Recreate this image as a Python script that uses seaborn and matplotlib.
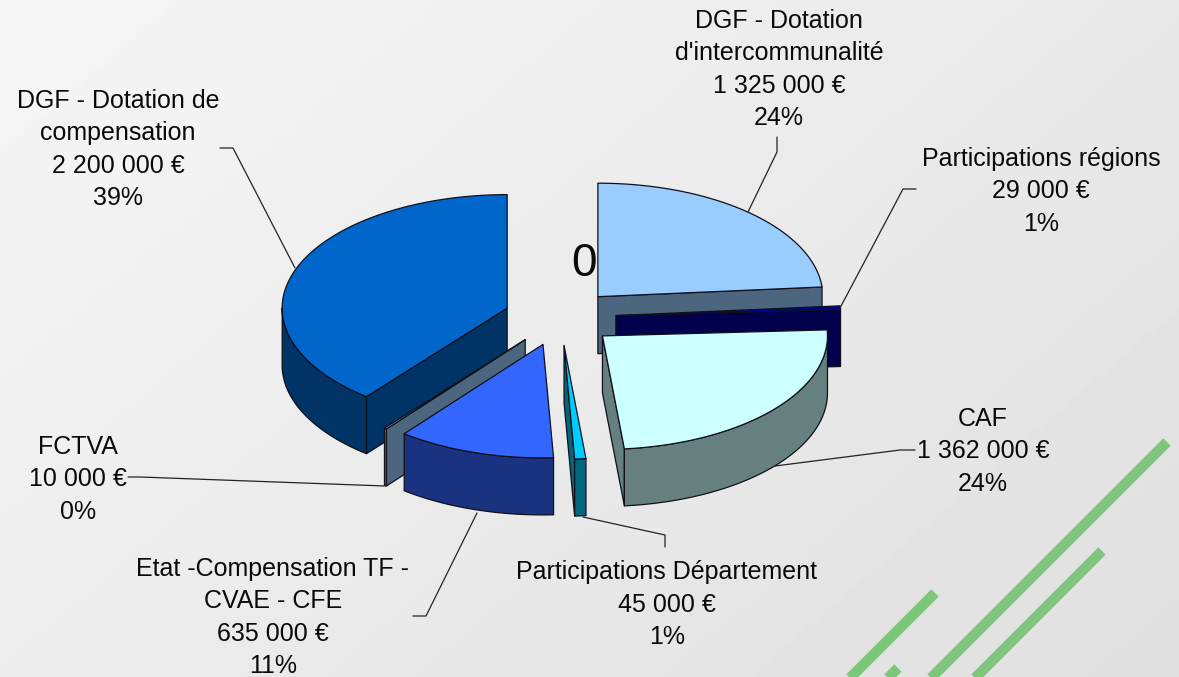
import numpy as np
import matplotlib
matplotlib.use("Agg")
import matplotlib.pyplot as plt
import seaborn as sns

# Chart data
names = ["DGF - Dotation\nd'intercommunalité", "Participations régions", "CAF",
         "Participations Département", "Etat -Compensation TF -\nCVAE - CFE", "FCTVA",
         "DGF - Dotation de\ncompensation"]
values = [1325000, 29000, 1362000, 45000, 635000, 10000, 2200000]
percents = [24, 1, 24, 1, 11, 0, 39]
top_colors = ["#99CCFF", "#000099", "#CCFFFF", "#00CCFF", "#3366FF", "#99CCFF", "#0066CC"]

# Label centres and leader lines (pixels)
label_pos = [(779, 69.5), (1041, 191.5), (983, 451.5), (667, 604.5), (273, 617.5), (78, 479.5), (118, 149.5)]
leaders = [
    [(748, 212), (777, 152), (777, 137)],
    [(840, 308), (903, 189), (916, 189)],
    [(775, 466), (900, 450), (915, 450)],
    [(583, 517), (665, 535), (665, 547)],
    [(477, 513), (426, 616), (413, 616)],
    [(385, 486), (140, 477), (128, 477)],
    [(295, 268), (233, 148), (220, 148)],
]
stripes = [
    [(1167, 442), (922, 687)],
    [(1102, 551), (966, 687)],
    [(935, 593), (841, 687)],
    [(898, 668), (879, 687)],
]

# Pie geometry
CX, CY = 560, 317.5
RX, RY = 225, 113.5
DEPTH = 57
EXPLODE = 56
# painter's order, back to front
draw_order = [0, 1, 6, 5, 4, 3, 2]

sns.set_theme(style="white")
plt.rcParams["font.family"] = ["Liberation Sans", "DejaVu Sans"]

fig = plt.figure(figsize=(11.79, 6.77), dpi=100)
ax = fig.add_axes([0, 0, 1, 1])

# background gradient
xx, yy = np.meshgrid(np.linspace(0, 1, 200), np.linspace(0, 1, 120))
shade = 0.965 - 0.09 * (0.6 * xx + 0.4 * yy)
ax.imshow(shade, cmap="gray", vmin=0, vmax=1, extent=(0, 1179, 677, 0), aspect="auto", zorder=0)

for s in stripes:
    ax.plot([p[0] for p in s], [p[1] for p in s], color="#7DC67C", lw=7.5,
            solid_capstyle="butt", zorder=1)

palette = sns.color_palette(top_colors)
total = sum(values)
ends = np.cumsum(values) / total * 2 * np.pi
starts = np.concatenate([[0], ends[:-1]])


def rim(cx, cy, a):
    return cx + RX * np.sin(a), cy - RY * np.cos(a)


def face(xs, ys, color, z):
    ax.fill(xs, ys, facecolor=color, edgecolor="#101018", lw=0.9, joinstyle="round", zorder=z)


z = 3
for i in draw_order:
    a0, a1 = starts[i], ends[i]
    mid = (a0 + a1) / 2
    cx = CX + EXPLODE * np.sin(mid)
    cy = CY - EXPLODE * np.cos(mid) * RY / RX
    top = palette[i]
    side = tuple(c / 2 for c in top)

    # radial cuts that face the viewer
    for a, visible in [(a0, np.sin(a0) < -1e-6), (a1, np.sin(a1) > 1e-6)]:
        if visible:
            rx, ry = rim(cx, cy, a)
            face([cx, rx, rx, cx], [cy, ry, ry + DEPTH, cy + DEPTH], side, z)
            z += 1

    # outer wall, only the front half of the ellipse shows
    lo, hi = max(a0, np.pi / 2), min(a1, 3 * np.pi / 2)
    if hi > lo:
        t = np.linspace(lo, hi, 80)
        xs, ys = rim(cx, cy, t)
        face(np.r_[xs, xs[::-1]], np.r_[ys, ys[::-1] + DEPTH], side, z)
        z += 1

    # top face
    t = np.linspace(a0, a1, max(int((a1 - a0) * 60), 4))
    xs, ys = rim(cx, cy, t)
    face(np.r_[cx, xs], np.r_[cy, ys], top, z)
    z += 1

# labels
for name, v, p, pos, lead in zip(names, values, percents, label_pos, leaders):
    ax.plot([q[0] for q in lead], [q[1] for q in lead], color="#222222", lw=0.9, zorder=60)
    money = f"{v:,}".replace(",", " ") + " €"
    ax.text(pos[0], pos[1], f"{name}\n{money}\n{p}%", ha="center", va="center", fontsize=18,
            linespacing=1.45, color="#0a0a0a", zorder=70)

ax.text(584, 264, "0", ha="center", va="center", fontsize=33, color="#0a0a0a", zorder=70)

ax.set_xlim(0, 1179)
ax.set_ylim(677, 0)
ax.axis("off")

fig.savefig("out.png", dpi=100)
